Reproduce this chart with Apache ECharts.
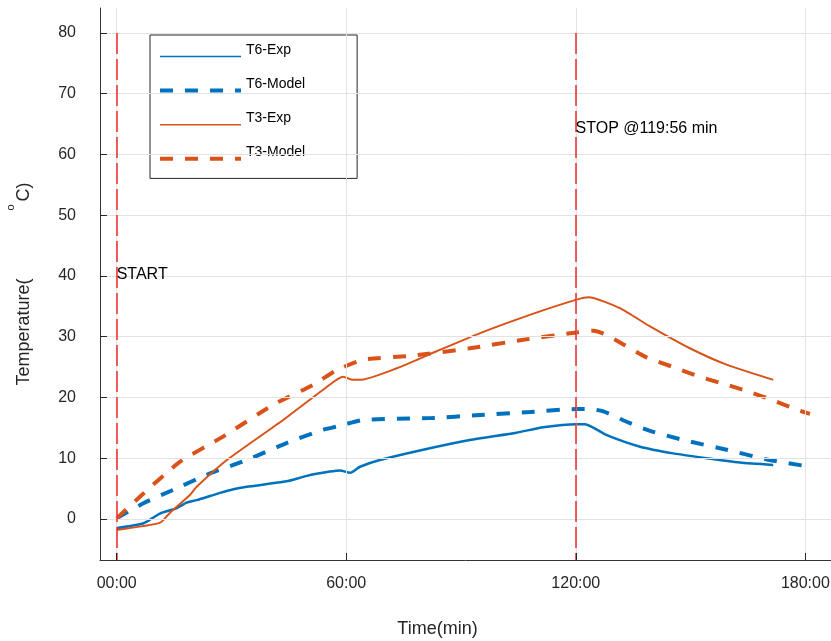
<!DOCTYPE html>
<html>
<head>
<meta charset="utf-8">
<script src="https://cdn.jsdelivr.net/npm/echarts@6/dist/echarts.min.js"></script>
<style>
html, body { margin: 0; padding: 0; background: #fff; }
#chart { width: 831px; height: 641px; }
</style>
</head>
<body>
<div id="chart"></div>
<script>
// tick positions (minutes / degrees)
const xTicks = [0, 60, 120, 180]
const yTicks = [0, 10, 20, 30, 40, 50, 60, 70, 80]

// T6 experiment
const t6ExpTime = [0, 7, 11.3, 15.7, 18.3, 20.9, 27, 30.5, 34, 44.4, 49.7, 55.7, 58.4, 61, 63.6, 68.8, 80.1, 92.3, 104.5, 111.5, 120.2, 122.4, 128.1, 136.8, 145.5, 154.2, 162.9, 171.6]
const t6ExpTemp = [-1.5, -0.7, 0.9, 1.8, 2.7, 3.1, 4.3, 4.9, 5.3, 6.2, 7.1, 7.8, 8.0, 7.6, 8.6, 9.7, 11.4, 13.0, 14.2, 15.1, 15.6, 15.6, 13.8, 11.9, 10.8, 10.0, 9.3, 8.9]

// T6 model
const t6ModelTime = [0, 7, 14.8, 24.4, 34, 44.4, 54, 57.5, 64.4, 81.9, 95, 108, 120.2, 123.7, 127.2, 133.3, 139.4, 148.1, 159.4, 169.9, 181.2]
const t6ModelTemp = [0.1, 2.6, 4.8, 7.5, 9.7, 12.5, 14.7, 15.2, 16.3, 16.6, 17.1, 17.6, 18.1, 18.1, 17.7, 16.0, 14.5, 13.0, 11.4, 9.8, 8.6]

// T3 experiment
const t3ExpTime = [0, 11.4, 13.9, 19.2, 20.9, 28.8, 43.5, 55.7, 59.1, 61.8, 63.6, 73.2, 83.6, 95, 108, 120.2, 123.3, 131.5, 139.4, 149.8, 159.4, 171.6]
const t3ExpTemp = [-1.8, -0.6, 1.0, 4.0, 5.3, 9.7, 16.3, 22.1, 23.4, 22.9, 22.9, 24.8, 27.6, 30.6, 33.6, 36.1, 36.5, 34.7, 31.7, 28.1, 25.4, 22.9]

// T3 model
const t3ModelTime = [0, 7, 16.5, 27.9, 40.9, 51.4, 57.5, 64.4, 77.5, 92.3, 106.3, 120.2, 124.6, 127.2, 132, 138.5, 145.5, 152.5, 159.4, 166.4, 172.5, 178.6, 181.2]
const t3ModelTemp = [0.1, 4.2, 9.4, 13.6, 18.8, 22.1, 24.5, 26.2, 26.9, 28.1, 29.5, 30.7, 31.0, 30.5, 28.9, 26.6, 25.0, 23.4, 22.1, 20.7, 19.3, 17.8, 17.3]

// markers
const startTime = 0
const stopTime = 119.93

const zip = (a, b) => a.map((v, i) => [v, b[i]])

const blue = '#0072bd'
const orange = '#d95319'
const font = '"Liberation Sans", Arial, sans-serif'

const X_MIN = -4.36, X_MAX = 186.7
const Y_MIN = -6.75, Y_MAX = 84.1

const solid = c => ({ color: c, width: 1.5, type: 'solid' })
const dashed = c => ({ color: c, width: 4, type: [13, 12] })

const chart = echarts.init(document.getElementById('chart'))

chart.setOption({
    animation: false,
    textStyle: { fontFamily: font },
    grid: { left: 100, right: 0, top: 8, bottom: 81, outerBoundsMode: 'none', containLabel: false },
    legend: {
        data: [
            { name: 'T6-Exp', lineStyle: solid(blue) },
            { name: 'T6-Model', lineStyle: dashed(blue) },
            { name: 'T3-Exp', lineStyle: solid(orange) },
            { name: 'T3-Model', lineStyle: dashed(orange) }
        ],
        orient: 'vertical',
        left: 150,
        top: 35,
        padding: [8, 52, 14, 8],
        itemWidth: 81,
        itemHeight: 14,
        itemGap: 15,
        itemStyle: { opacity: 0 },
        borderColor: '#262626',
        borderWidth: 1,
        borderRadius: 0,
        backgroundColor: '#fff',
        formatter: name => '{t|' + name + '}',
        textStyle: {
            fontSize: 14,
            color: '#000',
            fontFamily: font,
            rich: { t: { fontSize: 14, color: '#000', fontFamily: font, padding: [0, 0, 13, 0] } }
        }
    },
    xAxis: {
        type: 'value',
        min: X_MIN,
        max: X_MAX,
        z: 5,
        name: 'Time(min)',
        nameLocation: 'middle',
        nameGap: 60,
        nameTextStyle: { fontSize: 18, color: '#262626', padding: [0, 56, 0, 0] },
        axisLine: { onZero: false, lineStyle: { color: '#333', width: 1 } },
        axisTick: { customValues: xTicks, inside: true, length: 7, lineStyle: { color: '#262626' } },
        axisLabel: {
            customValues: xTicks,
            margin: 16,
            fontSize: 16,
            color: '#262626',
            formatter: v => String(v).padStart(2, '0') + ':00'
        },
        splitLine: { show: false }
    },
    yAxis: {
        type: 'value',
        min: Y_MIN,
        max: Y_MAX,
        z: 5,
        name: 'Temperature({gap|}{deg|o}C)',
        nameLocation: 'middle',
        nameGap: 56,
        nameTextStyle: {
            fontSize: 18,
            color: '#262626',
            rich: {
                gap: { width: 68 },
                deg: { fontSize: 11, color: '#262626', padding: [0, 3, 28, 0] }
            }
        },
        axisLine: { show: true, onZero: false, lineStyle: { color: '#333', width: 1 } },
        axisTick: { show: true, customValues: yTicks, inside: true, length: 7, lineStyle: { color: '#262626' } },
        axisLabel: { customValues: yTicks, margin: 24, fontSize: 16, color: '#262626' },
        splitLine: { show: false }
    },
    series: [
        {
            // grid lines and annotations
            name: 'grid',
            type: 'line',
            data: [],
            silent: true,
            z: 1,
            markLine: {
                silent: true,
                symbol: 'none',
                animation: false,
                label: { show: false },
                data: [
                    ...xTicks.map(t => [
                        { coord: [t, Y_MIN], lineStyle: { color: '#e3e3e3', width: 1, type: 'solid' } },
                        { coord: [t, Y_MAX] }
                    ]),
                    ...yTicks.map(v => [
                        { coord: [X_MIN, v], lineStyle: { color: '#e3e3e3', width: 1, type: 'solid' } },
                        { coord: [X_MAX, v] }
                    ]),
                    ...[startTime, stopTime].map(t => [
                        { coord: [t, 80], lineStyle: { color: '#f02828', width: 1.5, type: [21, 5] } },
                        { coord: [t, Y_MIN] }
                    ])
                ]
            },
            markPoint: {
                symbol: 'circle',
                symbolSize: 0,
                silent: true,
                label: {
                    show: true,
                    position: 'right',
                    distance: 0,
                    fontSize: 16,
                    color: '#000',
                    fontFamily: font,
                    formatter: p => p.name
                },
                data: [
                    { name: 'START', coord: [startTime, 40.3] },
                    { name: 'STOP @119:56 min', coord: [stopTime, 64.3] }
                ]
            }
        },
        {
            name: 'T6-Exp',
            type: 'line',
            data: zip(t6ExpTime, t6ExpTemp),
            symbol: 'none',
            smooth: 0.2,
            color: blue,
            lineStyle: { color: blue, width: 2.5 },
            z: 3
        },
        {
            name: 'T6-Model',
            type: 'line',
            data: zip(t6ModelTime, t6ModelTemp),
            symbol: 'none',
            smooth: 0.2,
            color: blue,
            lineStyle: { color: blue, width: 4, type: [13, 12] },
            z: 3
        },
        {
            name: 'T3-Exp',
            type: 'line',
            data: zip(t3ExpTime, t3ExpTemp),
            symbol: 'none',
            smooth: 0.2,
            color: orange,
            lineStyle: { color: orange, width: 2 },
            z: 3
        },
        {
            name: 'T3-Model',
            type: 'line',
            data: zip(t3ModelTime, t3ModelTemp),
            symbol: 'none',
            smooth: 0.2,
            color: orange,
            lineStyle: { color: orange, width: 4, type: [13, 12] },
            z: 3
        }
    ]
})
</script>
</body>
</html>
